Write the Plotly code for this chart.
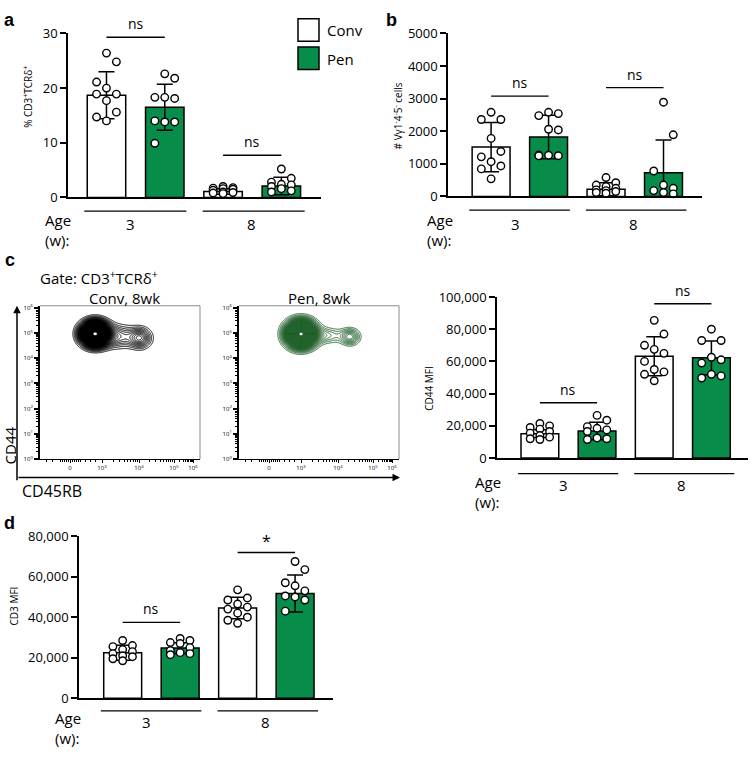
import numpy as np
import plotly.graph_objects as go

W, H = 750, 758
FONT = "Open Sans"
GREEN = "#078c4a"
FLOW_GREEN = "#22622c"


def fx(p):
    return p / W


def fy(p):
    return 1 - p / H


# ---------------- data ----------------
ages = ["3", "8"]
conditions = ["Conv", "Pen"]
bar_colors = ["white", GREEN, "white", GREEN]  # Conv3, Pen3, Conv8, Pen8

# a: % CD3+TCRd+
a_mean = [18.7, 16.5, 1.1, 2.1]
a_sd = [4.3, 4.2, 0.5, 1.6]
a_conv3 = [26.4, 24.8, 21.1, 20.0, 18.9, 18.9, 17.7, 15.6, 14.7, 14.0]
a_pen3 = [22.6, 21.8, 18.3, 18.1, 18.3, 14.0, 13.8, 13.8, 9.9]
a_conv8 = [2.0, 1.8, 1.7, 1.6, 1.5, 1.3, 1.0, 0.9, 0.8, 0.7]
a_pen8 = [5.2, 3.5, 2.8, 2.4, 2.3, 2.0, 1.6, 1.2, 1.0]
a_sig = [29.3, 7.7]
a_sig_text = ["ns", "ns"]

# b: # Vg1-4-5- cells
b_mean = [1514, 1823, 219, 727]
b_sd = [757, 667, 199, 1006]
b_conv3 = [2580, 2360, 2360, 1780, 1380, 1215, 1065, 935, 845, 540]
b_pen3 = [2580, 2540, 2480, 2060, 2040, 1270, 1265, 1250, 1245]
b_conv8 = [580, 420, 350, 300, 250, 200, 180, 150, 120, 100]
b_pen8 = [2890, 1890, 780, 350, 250, 180, 120, 80]
b_sig = [3078, 3337]
b_sig_text = ["ns", "ns"]

# c: CD44 MFI
c_mean = [15150, 16770, 63230, 62220]
c_sd = [2400, 5450, 12120, 10510]
c_conv3 = [21500, 20000, 19000, 18000, 16500, 15500, 14000, 13000, 12000, 11500]
c_pen3 = [26500, 23500, 19500, 18500, 17500, 16500, 12500, 12000, 11500]
c_conv8 = [85500, 77000, 70000, 67500, 65000, 60000, 55000, 53500, 52000, 48000]
c_pen8 = [80000, 73000, 73000, 62600, 61000, 59000, 52000, 51000, 49700]
c_sig = [34340, 95760]
c_sig_text = ["ns", "ns"]

# d: CD3 MFI
d_mean = [22490, 24740, 44500, 51730]
d_sd = [3690, 2600, 5300, 9150]
d_conv3 = [28500, 26000, 25500, 24000, 23000, 22000, 21000, 20500, 19500, 18500]
d_pen3 = [29500, 28500, 27500, 27000, 25000, 23500, 22500, 22000, 21500]
d_conv8 = [53500, 49500, 48500, 46500, 45000, 44000, 42000, 40000, 38500, 37000]
d_pen8 = [67500, 63500, 57000, 55500, 53000, 50500, 50000, 48500, 43000]
d_sig = [37430, 71970]
d_sig_text = ["ns", "*"]

# c (flow): cluster parameters of the contour plots (x in display units, y in log10 decades)
conv_centers_x = [55, 100, 77]
conv_centers_y = [4.97, 4.8, 4.86]
conv_sigma_x = [7.9, 7.0, 12]
conv_sigma_y = [0.27, 0.25, 0.28]
conv_weight = [1.0, 0.12, 0.09]

pen_centers_x = [62, 111, 87]
pen_centers_y = [4.96, 4.85, 4.9]
pen_sigma_x = [8.3, 6.0, 11]
pen_sigma_y = [0.29, 0.2, 0.2]
pen_weight = [1.0, 0.11, 0.06]

flow_x_tick_text = ["0", "10<sup>3</sup>", "10<sup>4</sup>", "10<sup>5</sup>", "10<sup>6</sup>"]
flow_y_tick_text = ["10<sup>%d</sup>" % k for k in range(7)]

# ---------------- figure ----------------
fig = go.Figure()
layout = {}
shapes = []
annotations = []


def ann(text, x, y, size=13, xanchor="center", yanchor="middle", xref="paper", yref="paper",
        angle=0, bold=False, family=FONT, color="black"):
    t = "<b>%s</b>" % text if bold else text
    annotations.append(dict(text=t, x=x, y=y, xref=xref, yref=yref, xanchor=xanchor,
                            yanchor=yanchor, showarrow=False, textangle=angle,
                            font=dict(size=size, family=family, color=color)))


def bar_panel(n, means, sds, pts, sig, sig_text, cfg):
    xa = "x" if n == 1 else "x%d" % n
    ya = "y" if n == 1 else "y%d" % n
    xs = [0, 1, 2, 3]
    fig.add_trace(go.Bar(
        x=xs, y=means, width=0.66,
        marker=dict(color=bar_colors, line=dict(color="black", width=1.5)),
        error_y=dict(type="data", array=sds, visible=True, color="black", thickness=1.5, width=8),
        xaxis=xa, yaxis=ya, hoverinfo="skip"))
    jit = [-0.17, 0.0, 0.17]
    for i, vals in enumerate(pts):
        order = np.argsort(vals)[::-1]
        px_ = np.zeros(len(vals))
        for rank, idx in enumerate(order):
            px_[idx] = i + jit[(rank + 1) % 3]
        fig.add_trace(go.Scatter(
            x=px_, y=vals, mode="markers", cliponaxis=False,
            marker=dict(size=7.5, color="white", line=dict(color="black", width=1.4)),
            xaxis=xa, yaxis=ya, hoverinfo="skip"))
    x0, x1, yt, yb = cfg["box"]
    layout["xaxis" if n == 1 else "xaxis%d" % n] = dict(
        domain=[fx(x0), fx(x1)], range=cfg["xr"], showline=True, linecolor="black", linewidth=1.5,
        showticklabels=False, ticks="", showgrid=False, zeroline=False, anchor=ya, fixedrange=True)
    layout["yaxis" if n == 1 else "yaxis%d" % n] = dict(
        domain=[fy(yb), fy(yt)], range=cfg["yr"], tickvals=cfg["ytv"], tickformat=cfg["fmt"],
        showline=True, linecolor="black", linewidth=1.5, ticks="outside", ticklen=6,
        tickwidth=1.5, tickcolor="black", tickfont=dict(size=13, family=FONT, color="black"),
        showgrid=False, zeroline=False, anchor=xa, fixedrange=True)
    # significance lines
    for k, (v, t) in enumerate(zip(sig, sig_text)):
        shapes.append(dict(type="line", xref=xa, yref=ya, x0=2 * k, x1=2 * k + 1, y0=v, y1=v,
                           line=dict(color="black", width=1.4)))
        annotations.append(dict(text=t, x=2 * k + 0.5, y=v, xref=xa, yref=ya, xanchor="center",
                                yanchor="bottom", yshift=2 if t == "ns" else -2, showarrow=False,
                                font=dict(size=14 if t == "ns" else 16, family=FONT, color="black")))
    # age lines
    ly = fy(cfg["age_line"])
    for a0, a1 in [(-0.38, 1.37), (1.65, 3.40)]:
        shapes.append(dict(type="line", xref=xa, yref="paper", x0=a0, x1=a1, y0=ly, y1=ly,
                           line=dict(color="black", width=1.3)))
    for gx_, g in zip([0.42, 2.48], ages):
        annotations.append(dict(text=g, x=gx_, y=fy(cfg["age_lab"]), xref=xa, yref="paper",
                                xanchor="center", yanchor="middle", showarrow=False,
                                font=dict(size=15, family=FONT, color="black")))
    ann("Age", fx(cfg["age_x"]), fy(cfg["age_lab"] - 4), size=15, xanchor="left")
    ann("(w):", fx(cfg["age_x"]), fy(cfg["age_lab"] + 17), size=15, xanchor="left")
    ann(cfg["ylabel"], fx(cfg["ylab_xy"][0]), fy(cfg["ylab_xy"][1]), size=10, angle=-90)


bar_panel(1, a_mean, a_sd, [a_conv3, a_pen3, a_conv8, a_pen8], a_sig, a_sig_text,
          dict(box=(68, 321, 25, 193), xr=[-0.66, 3.68], yr=[0, 30], ytv=[0, 10, 20, 30], fmt="d",
               age_line=207, age_lab=220, age_x=43, ylabel="% CD3<sup>+</sup>TCRδ<sup>+</sup>",
               ylab_xy=(28, 90)))
bar_panel(2, b_mean, b_sd, [b_conv3, b_pen3, b_conv8, b_pen8], b_sig, b_sig_text,
          dict(box=(448, 702, 25, 192), xr=[-0.75, 3.67], yr=[0, 5000],
               ytv=[0, 1000, 2000, 3000, 4000, 5000], fmt="d",
               age_line=206, age_lab=220, age_x=425,
               ylabel="# Vγ1<sup>-</sup>4<sup>-</sup>5<sup>-</sup> cells", ylab_xy=(398, 109)))
bar_panel(5, c_mean, c_sd, [c_conv3, c_pen3, c_conv8, c_pen8], c_sig, c_sig_text,
          dict(box=(497, 748, 295, 460), xr=[-0.75, 3.64], yr=[0, 100000],
               ytv=[0, 20000, 40000, 60000, 80000, 100000], fmt=",d",
               age_line=476, age_lab=488, age_x=473, ylabel="CD44 MFI", ylab_xy=(429, 388)))
bar_panel(6, d_mean, d_sd, [d_conv3, d_pen3, d_conv8, d_pen8], d_sig, d_sig_text,
          dict(box=(79, 333, 540, 706), xr=[-0.76, 3.66], yr=[0, 80000],
               ytv=[0, 20000, 40000, 60000, 80000], fmt=",d",
               age_line=719, age_lab=730, age_x=53, ylabel="CD3 MFI", ylab_xy=(14, 612)))

# ---------------- flow contour panels ----------------
gx = np.arange(15, 140, 0.4)
gy = np.arange(3.5, 6.05, 0.008)
GX, GY = np.meshgrid(gx, gy)


def density(cx, cy, sx, sy, w):
    z = np.zeros_like(GX)
    for a, b, c, d, e in zip(cx, cy, sx, sy, w):
        z += e * np.exp(-((GX - a) ** 2) / (2 * c ** 2) - ((GY - b) ** 2) / (2 * d ** 2))
    return z


flow_x_tick_pos = [30, 62, 99, 134, 153]
minor_x = [6, 12, 45, 50, 55] + list(range(20, 41, 2))
for d0, d1 in zip(flow_x_tick_pos[1:-1], flow_x_tick_pos[2:]):
    minor_x += [d0 + (d1 - d0) * np.log10(k) for k in range(2, 10)]
minor_y = [d + np.log10(k) for d in range(6) for k in range(2, 10)]

for n, (x0, x1), col, params, title, tcx in [
    (3, (40, 200), "black", (conv_centers_x, conv_centers_y, conv_sigma_x, conv_sigma_y, conv_weight),
     "Conv, 8wk", 124),
    (4, (239, 399), FLOW_GREEN, (pen_centers_x, pen_centers_y, pen_sigma_x, pen_sigma_y, pen_weight),
     "Pen, 8wk", 319),
]:
    xa, ya = "x%d" % n, "y%d" % n
    z = density(*params)
    fig.add_trace(go.Contour(
        x=gx, y=gy, z=z, xaxis=xa, yaxis=ya, showscale=False, hoverinfo="skip",
        contours=dict(start=0.02, end=0.985, size=0.012, coloring="lines"),
        colorscale=[[0, col], [1, col]], line=dict(width=1.0)))
    layout["xaxis%d" % n] = dict(
        domain=[fx(x0), fx(x1)], range=[0, 160], anchor=ya, showgrid=False, zeroline=False,
        showline=True, linecolor="black", linewidth=1, ticks="outside", ticklen=3, tickwidth=1.2,
        tickcolor="black", tickmode="array", tickvals=flow_x_tick_pos, ticktext=flow_x_tick_text,
        tickfont=dict(size=6, family=FONT, color="black"),
        minor=dict(tickmode="array", tickvals=minor_x, ticks="outside", ticklen=2, tickwidth=1,
                   tickcolor="black"), fixedrange=True)
    layout["yaxis%d" % n] = dict(
        domain=[fy(461), fy(304)], range=[0, 6.08], anchor=xa, showgrid=False, zeroline=False,
        showline=True, linecolor="black", linewidth=2, ticks="outside", ticklen=4, tickwidth=2,
        tickcolor="black", tickmode="array", tickvals=list(range(7)), ticktext=flow_y_tick_text,
        tickfont=dict(size=6, family=FONT, color="black"),
        minor=dict(tickmode="array", tickvals=minor_y, ticks="outside", ticklen=2, tickwidth=1.2,
                   tickcolor="black"), fixedrange=True)
    # gray top / right frame
    shapes.append(dict(type="line", xref="paper", yref="paper", x0=fx(x0), x1=fx(x1), y0=fy(304),
                       y1=fy(304), line=dict(color="#8a8a8a", width=1)))
    shapes.append(dict(type="line", xref="paper", yref="paper", x0=fx(x1), x1=fx(x1), y0=fy(304),
                       y1=fy(461), line=dict(color="#8a8a8a", width=1)))
    ann(title, fx(tcx), fy(296), size=15)

ann("Gate: CD3<sup>+</sup>TCRδ<sup>+</sup>", fx(38), fy(275), size=15, xanchor="left")
ann("CD44", fx(10), fy(447), size=15, angle=-90)
ann("CD45RB", fx(20), fy(494), size=16, xanchor="left")
# axis arrows
annotations.append(dict(x=fx(17), y=fy(304), xref="paper", yref="paper", ax=0, ay=176,
                        axref="pixel", ayref="pixel", showarrow=True, arrowhead=2, arrowsize=1,
                        arrowwidth=1.5, arrowcolor="black", text=""))
annotations.append(dict(x=fx(400), y=fy(480), xref="paper", yref="paper", ax=-383, ay=0,
                        axref="pixel", ayref="pixel", showarrow=True, arrowhead=2, arrowsize=1,
                        arrowwidth=1.5, arrowcolor="black", text=""))

# ---------------- legend ----------------
shapes.append(dict(type="rect", xref="paper", yref="paper", x0=fx(298), x1=fx(319), y0=fy(33),
                   y1=fy(10), fillcolor="white", line=dict(color="black", width=1.5)))
shapes.append(dict(type="rect", xref="paper", yref="paper", x0=fx(298), x1=fx(319), y0=fy(62),
                   y1=fy(39), fillcolor=GREEN, line=dict(color="black", width=1.5)))
ann(conditions[0], fx(325), fy(22), size=15, xanchor="left")
ann(conditions[1], fx(325), fy(51), size=15, xanchor="left")

# ---------------- panel letters ----------------
for t, x, y in [("a", 9, 11), ("b", 391, 11), ("c", 10, 257), ("d", 9, 527)]:
    ann(t, fx(x), fy(y), size=18, bold=True, family="Liberation Sans")

fig.update_layout(
    width=W, height=H, margin=dict(l=0, r=0, t=0, b=0), paper_bgcolor="white",
    plot_bgcolor="white", showlegend=False, barmode="overlay",
    font=dict(family=FONT, color="black"), shapes=shapes, annotations=annotations, **layout)

fig.write_html("out.html", config={"displayModeBar": False},
               post_script="document.body.style.margin='0px';document.body.style.overflow='hidden';")
